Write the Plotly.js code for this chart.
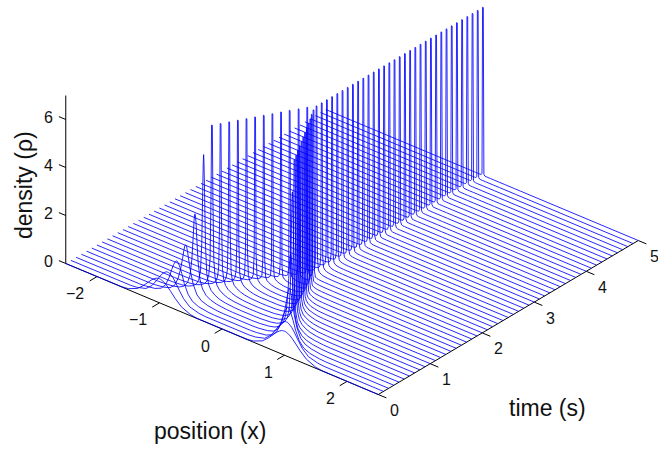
<!DOCTYPE html>
<html><head><meta charset="utf-8">
<script src="https://cdn.plot.ly/plotly-3.0.1.min.js"></script>
<style>html,body{margin:0;padding:0;background:#fff;overflow:hidden}</style>
</head><body><div id="chart" style="width:658px;height:449px"></div>
<script>
// time of each curve (s)
const times = [0,.1,.2,.3,.4,.5,.6,.7,.8,.9,1,1.1,1.2,1.3,1.4,1.5,1.6,1.7,1.8,1.9,2,2.1,2.2,2.3,2.4,2.5,2.6,2.7,2.8,2.9,3,3.1,3.2,3.3,3.4,3.5,3.6,3.7,3.8,3.9,4,4.1,4.2,4.3,4.4,4.5,4.6,4.7,4.8,4.9,5];
// position of the left-hand peak (right-hand peak mirrors it until they merge)
const peakX = [-1,-.95,-.89,-.83,-.765,-.71,-.66,-.605,-.55,-.495,-.44,-.385,-.33,-.275,-.22,-.165,-.105,-.05,.015,.015,.015,.015,.015,.015,.015,.015,.015,.015,.015,.015,.015,.015,.015,.015,.015,.015,.015,.015,.015,.015,.015,.015,.015,.015,.015,.015,.015,.015,.015,.015,.015];
const peakRho = [1,1.2,1.6,2.2,3.45,5.85,7,7,7,7,7,7,7,7,7,7,7,7,7,7,7,7,7,7,7,7,7,7,7,7,7,7,7,7,7,7,7,7,7,7,7,7,7,7,7,7,7,7,7,7,7];
// distance from the peak at which density was read
const offsets = [.6,.5,.35,.25,.18,.12,.08,.05,.03,.015,.006];
// density read at those distances, one row per curve
const flankRho = [
[.011,.044,.216,.458,.667,.835,.923,.969,.989,.997,1],
[.006,.03,.14,.38,.66,.92,1.07,1.14,1.18,1.2,1.2],
[.003,.02,.08,.2,.42,.8,1.17,1.4,1.52,1.58,1.6],
[.003,.015,.07,.16,.33,.7,1.15,1.6,1.95,2.15,2.2],
[.003,.015,.06,.13,.24,.45,.8,1.5,2.4,3.15,3.4],
[.002,.01,.045,.1,.19,.32,.52,.95,2.1,4.3,5.5],
[.002,.008,.035,.085,.16,.27,.42,.72,1.4,4,7],
[.001,.006,.025,.07,.13,.22,.34,.55,1,3,7],
[0,.004,.02,.055,.11,.19,.28,.45,.8,2.5,7],
[0,.003,.015,.04,.09,.15,.24,.38,.65,2,7],
[0,.002,.01,.03,.07,.12,.2,.3,.5,1.6,7],
[0,.001,.007,.02,.05,.09,.15,.24,.4,1.3,7],
[0,0,.005,.015,.03,.07,.12,.18,.3,1,7],
[0,0,.003,.01,.02,.05,.09,.14,.23,.8,7],
[0,0,.002,.006,.015,.03,.06,.1,.17,.6,7],
[0,0,.001,.004,.01,.02,.04,.07,.12,.45,7],
[0,0,0,.003,.007,.015,.03,.05,.09,.35,7],
[0,0,0,.002,.005,.01,.02,.04,.07,.3,7],
[0,0,.001,.004,.012,.03,.06,.11,.2,.7,7],
[0,0,.001,.003,.009,.024,.05,.09,.17,.6,7],
[0,0,0,.002,.007,.019,.04,.075,.145,.52,7],
[0,0,0,.002,.005,.015,.032,.062,.125,.46,7],
[0,0,0,.001,.004,.012,.026,.052,.108,.41,7],
[0,0,0,.001,.003,.009,.021,.044,.094,.37,7],
[0,0,0,.001,.002,.007,.017,.037,.082,.33,7],
[0,0,0,0,.002,.006,.014,.031,.072,.3,7],
[0,0,0,0,.001,.005,.012,.026,.063,.27,7],
[0,0,0,0,.001,.004,.01,.022,.056,.25,7],
[0,0,0,0,.001,.003,.008,.019,.05,.23,7],
[0,0,0,0,.001,.002,.007,.016,.044,.21,7],
[0,0,0,0,0,.002,.006,.014,.039,.19,7],
[0,0,0,0,0,.002,.005,.012,.035,.18,7],
[0,0,0,0,0,.001,.004,.01,.031,.165,7],
[0,0,0,0,0,.001,.003,.009,.028,.15,7],
[0,0,0,0,0,.001,.003,.008,.025,.14,7],
[0,0,0,0,0,.001,.002,.007,.022,.13,7],
[0,0,0,0,0,.001,.002,.006,.02,.12,7],
[0,0,0,0,0,0,.002,.005,.018,.11,7],
[0,0,0,0,0,0,.002,.005,.016,.105,7],
[0,0,0,0,0,0,.001,.004,.015,.1,7],
[0,0,0,0,0,0,.001,.004,.013,.095,7],
[0,0,0,0,0,0,.001,.003,.012,.09,7],
[0,0,0,0,0,0,.001,.003,.011,.085,7],
[0,0,0,0,0,0,.001,.003,.01,.08,7],
[0,0,0,0,0,0,.001,.002,.009,.075,7],
[0,0,0,0,0,0,.001,.002,.008,.07,7],
[0,0,0,0,0,0,.001,.002,.008,.068,7],
[0,0,0,0,0,0,0,.002,.007,.065,7],
[0,0,0,0,0,0,0,.002,.007,.062,7],
[0,0,0,0,0,0,0,.001,.006,.06,7],
[0,0,0,0,0,0,0,.001,.006,.058,7]
];
const mergeIndex = 18;
const xTicks = [-2,-1,0,1,2];
const xTickText = ['\u22122','\u22121','0','1','2'];
const tTicks = [0,1,2,3,4,5];
const zTicks = [0,2,4,6];
const xLimits = [-2.5,2.5];
const tLimits = [0,5];
const zLimits = [0,7];

// oblique view of (position, time, density) onto the drawing plane
function view(x,t,z){ return [222+62.5*x+52*t, 329+26.2*x-30.8*t-24*z]; }

function curve(i){
  const xs=[], rs=[], xp=peakX[i], row=flankRho[i];
  const add=(a,b)=>{xs.push(a);rs.push(b);};
  add(xLimits[0],0);
  const one=(limit)=>{
    offsets.forEach((d,k)=>{ add(xp-d,row[k]); });
    add(xp,peakRho[i]);
    for(let k=offsets.length-1;k>=0;k--){ if(xp+offsets[k]<limit) add(xp+offsets[k],row[k]); }
  };
  if(i>=mergeIndex){
    one(xLimits[1]);
    add(xLimits[1],0);
  } else {
    one(0);
    const n=xs.length;
    for(let k=n-1;k>=0;k--){ xs.push(-xs[k]); rs.push(rs[k]); }
  }
  return {xs,rs};
}

const traces=[];
function seg(a,b){
  const p=view(...a), q=view(...b);
  traces.push({type:'scatter',mode:'lines',x:[p[0],q[0]],y:[p[1],q[1]],line:{color:'#000',width:1},hoverinfo:'skip',showlegend:false});
}
const anns=[];
function label(txt,p,dx,dy,size){
  anns.push({text:txt,x:p[0]+dx,y:p[1]+dy,xref:'x',yref:'y',showarrow:false,xanchor:'center',yanchor:'middle',font:{family:'Liberation Sans, Arial, sans-serif',size:size||16,color:'#111'}});
}
seg([xLimits[0],0,0],[xLimits[1],0,0]);
seg([xLimits[1],0,0],[xLimits[1],tLimits[1],0]);
seg([xLimits[0],0,0],[xLimits[0],0,zLimits[1]]);
xTicks.forEach((v,i)=>{ seg([v,0,0],[v,-.14,0]); label(xTickText[i],view(v,0,0),v<0?-22:-16.5,17); });
tTicks.forEach(v=>{ seg([xLimits[1],v,0],[xLimits[1]+.13,v,0]); label(String(v),view(xLimits[1],v,0),16.5,16); });
zTicks.forEach(v=>{ seg([xLimits[0],0,v],[xLimits[0]-.11,0,v]); label(String(v),view(xLimits[0],0,v),-17,-2); });

for(let i=times.length-1;i>=0;i--){
  const c=curve(i), X=[], Y=[];
  c.xs.forEach((x,k)=>{ const p=view(x,times[i],c.rs[k]); X.push(p[0]); Y.push(p[1]); });
  traces.push({type:'scatter',mode:'lines',x:X,y:Y,line:{color:'#0000ff',width:.85,simplify:false},hoverinfo:'skip',showlegend:false});
}

anns.push({text:'position (x)',x:210,y:431,xref:'x',yref:'y',showarrow:false,font:{family:'Liberation Sans, Arial, sans-serif',size:23,color:'#111'}});
anns.push({text:'time (s)',x:547,y:408,xref:'x',yref:'y',showarrow:false,font:{family:'Liberation Sans, Arial, sans-serif',size:23,color:'#111'}});
anns.push({text:'density (\u03c1)',x:24,y:185,xref:'x',yref:'y',textangle:-90,showarrow:false,font:{family:'Liberation Sans, Arial, sans-serif',size:23,color:'#111'}});

Plotly.newPlot('chart',traces,{
  width:658,height:449,margin:{l:0,r:0,t:0,b:0},paper_bgcolor:'#fff',plot_bgcolor:'#fff',showlegend:false,
  xaxis:{range:[0,658],visible:false,fixedrange:true},
  yaxis:{range:[449,0],visible:false,fixedrange:true},
  annotations:anns
},{displayModeBar:false,staticPlot:true});
</script></body></html>
